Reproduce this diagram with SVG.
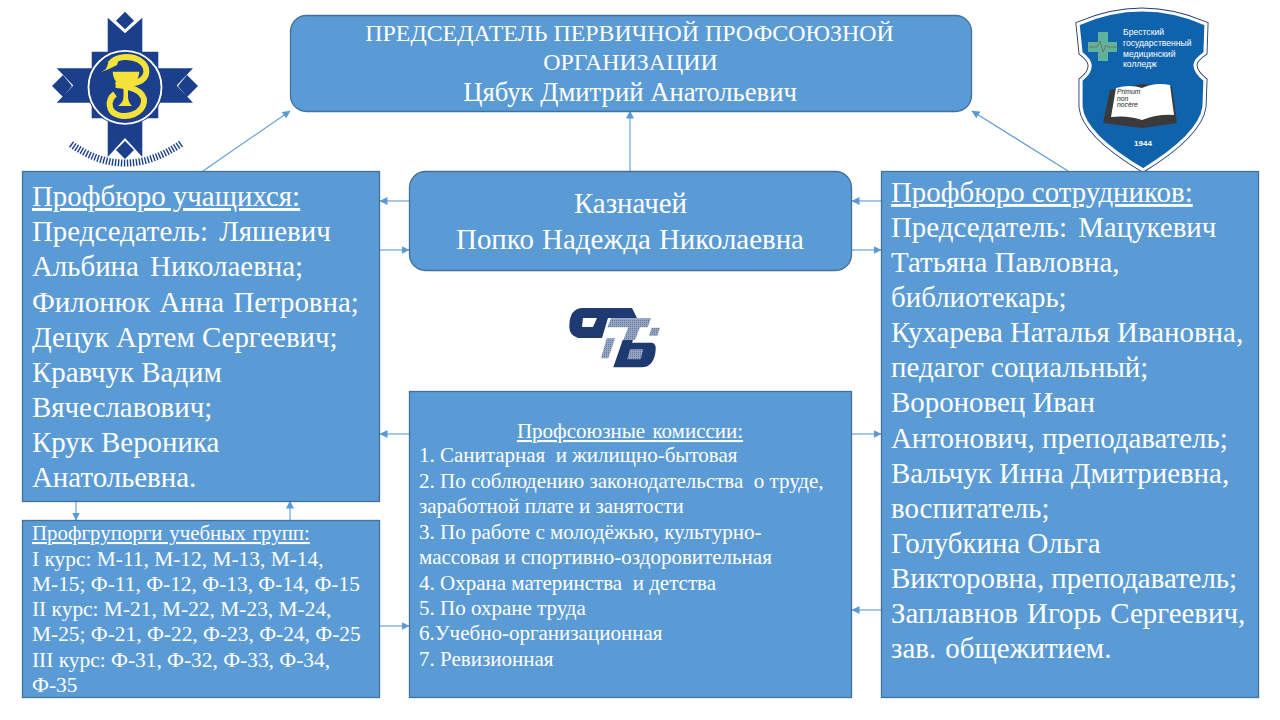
<svg xmlns="http://www.w3.org/2000/svg" width="1280" height="720" viewBox="0 0 1280 720">
<style>
.box{fill:#5b9bd5;stroke:#41719c;stroke-width:1.3}
text{font-family:"Liberation Serif","Times New Roman",serif;fill:#fff}
.l{font-size:28.9px}
.t{font-size:23.9px}
.n{font-size:26.7px}
.m{font-size:21px;white-space:pre}
.s{font-size:21.4px}
.c{text-anchor:middle}
.u{text-decoration:underline}
.w{word-spacing:2px}
.x{word-spacing:4px}
.cn{stroke:#5b9bd5;stroke-width:1.1;fill:none;marker-end:url(#a)}
.navy{fill:#1c3f8c}
.dk{fill:#1f3a70}
.lg{font-family:"Liberation Sans",Arial,sans-serif;font-size:8.6px}
.bk{font-family:"Liberation Sans",Arial,sans-serif;font-size:6.8px;font-style:italic;fill:#222}
</style>
<defs>
<marker id="a" markerWidth="8" markerHeight="8" refX="7.500" refY="4" orient="auto" markerUnits="userSpaceOnUse"><path d="M0 0L8 4L0 8z" fill="#5b9bd5"/></marker>
<pattern id="h" width="2" height="2" patternUnits="userSpaceOnUse"><rect width="2" height="2" fill="#97a6c0"/><rect width="1" height="1" fill="#62779f"/></pattern>
<path id="shield" d="M1078 24Q1142 -4 1206 24L1205 53Q1195 60 1195 65Q1195 72 1205 80L1204 107Q1200 135 1143 170Q1084 135 1081 107L1081 80Q1091 72 1090 65Q1090 60 1081 53z"/>
</defs>
<rect width="1280" height="720" fill="#fff"/>

<g id="connectors">
<path class="cn" d="M203 171L290 111"/>
<path class="cn" d="M630 171V111"/>
<path class="cn" d="M1068 171L972 111"/>
<path class="cn" d="M409 201H380"/>
<path class="cn" d="M380 250H409"/>
<path class="cn" d="M881 201H852"/>
<path class="cn" d="M852 250H881"/>
<path class="cn" d="M409 434H380"/>
<path class="cn" d="M852 434H881"/>
<path class="cn" d="M881 610H852"/>
<path class="cn" d="M380 626H409"/>
<path class="cn" d="M76 501V520"/>
<path class="cn" d="M290 520V501"/>
</g>

<g id="logo-left">
<path class="navy" d="M107.700 17.700L125 33.300L142.300 17.700V51.700H158.300V68.300H193L176.700 85.500L193 102.700H158.300V118.300H142.300V157L125 138L107.700 157V118.300H91.700V102.700H56.700L73.300 85.500L56.700 68.300H91.700V51.700H107.700z"/>
<path class="navy" d="M125 11.700L134 20.700L125 29.300L116 20.700z"/>
<path class="navy" d="M125 141L134 150L125 159L116 150z"/>
<path class="navy" d="M52 86L63 75L72 86L63 97z"/>
<path class="navy" d="M178 86L187 75L198 86L187 97z"/>
<circle cx="125" cy="87.300" r="38.500" fill="#1c3f8c" stroke="none"/>
<circle cx="125" cy="87.300" r="36.500" fill="#1c3f8c" stroke="#fff" stroke-width="1.8"/>
<path d="M112.700 71.700H139.300C139 80 134 85 128 86.500V97C128 101 130 104 132 106H118C121 104 123.500 101 123.500 97V86.500C118 85 113 80 112.700 71.700z" fill="#f4e23a"/>
<path d="M110 64C116 56 130 55 139 60C150 67 148 78 138 82C130 85 120 84 116 85C128 86 145 90 144 102C142 114 128 118 118 115C108 112 107 100 115 94" fill="none" stroke="#f4e23a" stroke-width="6"/>
<path d="M101 72L106 69L109 61L119 59L117 65L109 69z" fill="#f4e23a"/>
<path d="M71 144Q125 182.600 182 143" fill="none" stroke="#1c3f8c" stroke-width="7" stroke-dasharray="1.4 1.6"/>
</g>

<g id="logo-right">
<use href="#shield" fill="none" stroke="#1f3a70" stroke-width="5"/>
<use href="#shield" fill="#0f62ac" stroke="#fff" stroke-width="3.200"/>
<path d="M1098 32H1108V42H1117V52H1108V61H1098V52H1088V42H1098z" fill="#5fb39a"/>
<path d="M1089 47H1097L1100 41L1103 52L1106 45L1108 47H1117" fill="none" stroke="#8a5a4a" stroke-width=".8"/>
<text class="lg" x="1123" y="35">Брестский</text>
<text class="lg" x="1123" y="46">государственный</text>
<text class="lg" x="1123" y="57">медицинский</text>
<text class="lg" x="1123" y="67">колледж</text>
<path d="M1110 90L1142 84L1172 87L1177 123L1142 128L1103 123z" fill="#3a3a3a"/>
<path d="M1116 88Q1130 84 1142 88V120Q1128 115 1111 117z" fill="#fff"/>
<path d="M1142 88Q1155 82 1170 85L1174 115Q1157 114 1142 120z" fill="#fff"/>
<text class="bk" x="1117" y="94">Primum</text>
<text class="bk" x="1117" y="101">non</text>
<text class="bk" x="1117" y="107">nocère</text>
<text class="c" x="1143" y="146" style="font-size:8px;font-weight:bold;font-family:'Liberation Sans',sans-serif">1944</text>
</g>

<g id="logo-center">
<path class="dk" fill-rule="evenodd" d="M569.300 326.700Q569.300 308 583 308H632L637 318H608L602 338H578Q569.300 335 569.300 326.700zM583 318H597L593 327H582z"/>
<path fill="url(#h)" d="M611 318.300H651L647.700 327.300H640L635 340H623.300L628.300 327.300H607.300z"/>
<path fill="url(#h)" d="M651.700 327.700H660L657.300 335.700H649z"/>
<path fill="url(#h)" d="M606.700 338.300H615L608.300 358.300H601z"/>
<path class="dk" d="M622.700 340H633L632 342.700H651.700Q657 343 655.300 353.300Q652.700 367.300 641.700 367.300H613.300z"/>
<path fill="url(#h)" d="M630 349.300H643.300L640.700 359.300H627.300z"/>
</g>

<g id="node-chairman">
<rect class="box" x="290.500" y="15.500" width="681" height="96" rx="16"/>
<text class="c t" x="629.500" y="41">ПРЕДСЕДАТЕЛЬ ПЕРВИЧНОЙ ПРОФСОЮЗНОЙ</text>
<text class="c t" x="630.500" y="70">ОРГАНИЗАЦИИ</text>
<text class="c n" x="630" y="101">Цябук Дмитрий Анатольевич</text>
</g>

<g id="node-treasurer">
<rect class="box" x="409.500" y="171.500" width="442" height="99" rx="16"/>
<text class="c l" x="630.500" y="213">Казначей</text>
<text class="c l" x="630" y="249" style="word-spacing:1px">Попко Надежда Николаевна</text>
</g>

<g id="node-students">
<rect class="box" x="22.500" y="171.500" width="357" height="330"/>
<text class="l u" x="32" y="206">Профбюро учащихся:</text>
<text class="l x" x="32" y="241">Председатель: Ляшевич</text>
<text class="l x" x="32" y="276">Альбина Николаевна;</text>
<text class="l w" x="32" y="312">Филонюк Анна Петровна;</text>
<text class="l" x="32" y="347">Децук Артем Сергеевич;</text>
<text class="l" x="32" y="382">Кравчук Вадим</text>
<text class="l" x="32" y="417">Вячеславович;</text>
<text class="l" x="32" y="452">Крук Вероника</text>
<text class="l" x="32" y="487">Анатольевна.</text>
</g>

<g id="node-staff">
<rect class="box" x="881.500" y="171.500" width="377" height="526"/>
<text class="l u" x="891" y="202">Профбюро сотрудников:</text>
<text class="l x" x="891" y="237">Председатель: Мацукевич</text>
<text class="l" x="891" y="272">Татьяна Павловна,</text>
<text class="l" x="891" y="307">библиотекарь;</text>
<text class="l" x="891" y="342">Кухарева Наталья Ивановна,</text>
<text class="l" x="891" y="377">педагог социальный;</text>
<text class="l" x="891" y="412">Вороновец Иван</text>
<text class="l" x="891" y="448">Антонович, преподаватель;</text>
<text class="l" x="891" y="483">Вальчук Инна Дмитриевна,</text>
<text class="l" x="891" y="518">воспитатель;</text>
<text class="l" x="891" y="553">Голубкина Ольга</text>
<text class="l" x="891" y="588">Викторовна, преподаватель;</text>
<text class="l w" x="891" y="623">Заплавнов Игорь Сергеевич,</text>
<text class="l w" x="891" y="658">зав. общежитием.</text>
</g>

<g id="node-groups">
<rect class="box" x="22.500" y="520.500" width="357" height="177"/>
<text class="u" style="font-size:20.9px;word-spacing:1.5px" x="32" y="540">Профгрупорги учебных групп:</text>
<text class="s" x="32" y="566">I курс: М-11, М-12, М-13, М-14,</text>
<text class="s" x="32" y="591">М-15; Ф-11, Ф-12, Ф-13, Ф-14, Ф-15</text>
<text class="s" x="32" y="616">II курс: М-21, М-22, М-23, М-24,</text>
<text class="s" x="32" y="641">М-25; Ф-21, Ф-22, Ф-23, Ф-24, Ф-25</text>
<text class="s" x="32" y="667">III курс: Ф-31, Ф-32, Ф-33, Ф-34,</text>
<text class="s" x="32" y="692">Ф-35</text>
</g>

<g id="node-commissions">
<rect class="box" x="409.500" y="391.500" width="442" height="306"/>
<text class="c m u w" x="630" y="438">Профсоюзные комиссии:</text>
<text class="m" x="419" y="462">1. Санитарная  и жилищно-бытовая</text>
<text class="m" x="419" y="488">2. По соблюдению законодательства  о труде,</text>
<text class="m" x="419" y="513">заработной плате и занятости</text>
<text class="m" x="419" y="539">3. По работе с молодёжью, культурно-</text>
<text class="m" x="419" y="564">массовая и спортивно-оздоровительная</text>
<text class="m" x="419" y="590">4. Охрана материнства  и детства</text>
<text class="m" x="419" y="615">5. По охране труда</text>
<text class="m" x="419" y="640">6.Учебно-организационная</text>
<text class="m" x="419" y="666">7. Ревизионная</text>
</g>
</svg>
